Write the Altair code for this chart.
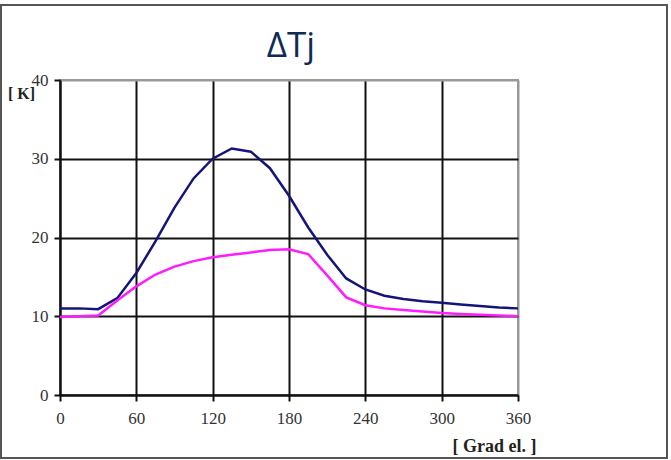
import altair as alt
import pandas as pd

angles = [0, 15, 30, 45, 60, 75, 90, 105, 120, 135, 150, 165, 180,
          195, 210, 225, 240, 255, 270, 285, 300, 315, 330, 345, 360]
blue_vals = [11.0, 11.0, 10.9, 12.3, 15.5, 19.5, 23.8, 27.5, 30.0, 31.3, 30.9, 28.8, 25.3,
             21.3, 17.8, 14.8, 13.4, 12.6, 12.2, 11.9, 11.7, 11.5, 11.3, 11.1, 11.0]
pink_vals = [9.9, 10.0, 10.1, 12.0, 13.8, 15.3, 16.3, 17.0, 17.5, 17.8, 18.1, 18.4, 18.5,
             17.9, 15.2, 12.4, 11.4, 11.0, 10.8, 10.6, 10.4, 10.3, 10.2, 10.1, 10.0]
series_names = ["A", "B"]
series_colors = ["#14147a", "#ff1aff"]
x_ticks = [0, 60, 120, 180, 240, 300, 360]
y_ticks = [0, 10, 20, 30, 40]
title_text = ["ΔTj"]

rows = []
for a, v in zip(angles, blue_vals):
    rows.append({"deg": a, "val": v, "s": series_names[0]})
for a, v in zip(angles, pink_vals):
    rows.append({"deg": a, "val": v, "s": series_names[1]})
df = pd.DataFrame(rows)

serif = "Liberation Serif"

lines = alt.Chart(df).mark_line(strokeWidth=2.5).encode(
    x=alt.X("deg:Q", scale=alt.Scale(domain=[0, 360], nice=False),
            axis=alt.Axis(values=x_ticks, title="[ Grad el. ]",
                          titleX=434, titleY=56, titleAlign="center",
                          titleBaseline="alphabetic",
                          titleFont=serif, titleFontSize=18, titleFontWeight="bold",
                          titleColor="#222",
                          labelFont=serif, labelFontSize=17, labelColor="#333",
                          labelPadding=9, labelFlush=False,
                          gridColor={"condition": {"test": "datum.value == 360", "value": "#999"}, "value": "#111"},
                          gridWidth=2, domainColor="#111", domainWidth=2,
                          tickColor="#111", tickWidth=2, tickSize=6)),
    y=alt.Y("val:Q", scale=alt.Scale(domain=[0, 40], nice=False),
            axis=alt.Axis(values=y_ticks, title="[ K]", titleAngle=0,
                          titleX=-39, titleY=18, titleAlign="center",
                          titleBaseline="alphabetic",
                          titleFont=serif, titleFontSize=16, titleFontWeight="bold",
                          titleColor="#222",
                          labelFont=serif, labelFontSize=17, labelColor="#333",
                          labelPadding=6, labelFlush=False,
                          gridColor={"condition": {"test": "datum.value == 40", "value": "#999"}, "value": "#111"},
                          gridWidth=2, domainColor="#111", domainWidth=2,
                          tickColor="#111", tickWidth=2, tickSize=6)),
    color=alt.Color("s:N", scale=alt.Scale(domain=series_names, range=series_colors), legend=None),
    detail="s:N",
)

frame = alt.Chart(pd.DataFrame({"k": [0]})).mark_rect(
    filled=False, stroke="#555", strokeWidth=2
).encode(
    x=alt.value(-59), x2=alt.value(607), y=alt.value(-75), y2=alt.value(378)
)

title = alt.Chart(pd.DataFrame({"t": title_text})).mark_text(
    font="Open Sans", fontSize=35, color="#0e2a55", align="center", baseline="alphabetic"
).encode(
    text="t:N", x=alt.value(231), y=alt.value(-23)
)

chart = alt.layer(lines, frame, title).properties(
    width=458, height=315,
    autosize=alt.AutoSizeParams(type="none"),
    padding={"left": 60, "top": 80, "right": 153, "bottom": 65},
    background="white",
).configure_view(stroke="#999", strokeWidth=2)

chart.save("out.html", embed_options={"renderer": "svg", "actions": False})
